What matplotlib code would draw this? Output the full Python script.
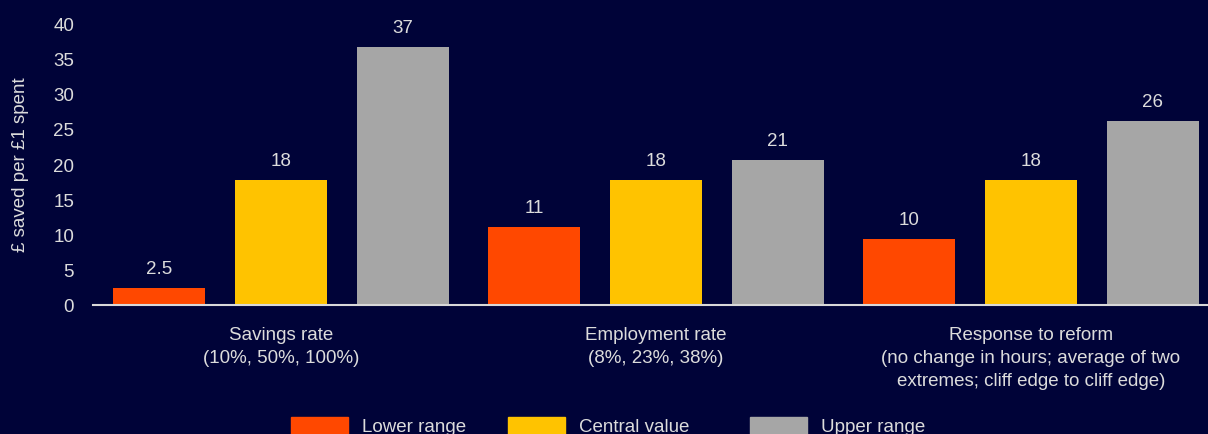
import matplotlib.pyplot as plt
import matplotlib.patches as mpatches
import numpy as np

# ---------------------------------------------------------------- Data
categories = ["Savings rate\n(10%, 50%, 100%)",
              "Employment rate\n(8%, 23%, 38%)",
              "Response to reform\n(no change in hours; average of two\nextremes; cliff edge to cliff edge)"]
series_names = ["Lower range", "Central value", "Upper range"]
lower   = [2.4, 11.1, 9.4]
central = [17.7, 17.7, 17.7]
upper   = [36.6, 20.6, 26.1]
lower_labels   = ["2.5", "11", "10"]
central_labels = ["18", "18", "18"]
upper_labels   = ["37", "21", "26"]
yticks = [0, 5, 10, 15, 20, 25, 30, 35, 40]

# ---------------------------------------------------------------- Style
BG = "#000338"
TXT = "#dcdcdc"
COLORS = ["#ff4800", "#ffc300", "#a6a6a6"]
FS = 13.5
plt.rcParams["font.family"] = ["Liberation Sans", "DejaVu Sans"]
plt.rcParams["font.size"] = FS

W, H = 1208, 435
fig = plt.figure(figsize=(W / 100, H / 100), dpi=100, facecolor=BG)
ax = fig.add_axes([0.0774, 0.2966, 0.9313, 0.648], facecolor=BG)

x = np.arange(len(categories))
step, width = 0.325, 0.245
for i, (vals, labs) in enumerate([(lower, lower_labels),
                                  (central, central_labels),
                                  (upper, upper_labels)]):
    xs = x + (i - 1) * step
    ax.bar(xs, vals, width, color=COLORS[i], edgecolor="none", zorder=2)
    for xi, v, lab in zip(xs, vals, labs):
        ax.annotate(lab, (xi, v), xytext=(0, 14), textcoords="offset points",
                    ha="center", va="center", color=TXT, fontsize=FS)

ax.set_xlim(-0.5, 2.5)
ax.set_ylim(0, 40)
ax.set_yticks(yticks)
ax.set_xticks(x)
ax.set_xticklabels(categories, color=TXT, fontsize=FS, linespacing=1.46)
ax.tick_params(axis="both", length=0, colors=TXT, labelsize=FS)
ax.tick_params(axis="x", pad=15)
ax.tick_params(axis="y", pad=14)
for s in ["top", "right", "left"]:
    ax.spines[s].set_visible(False)
ax.spines["bottom"].set_color("#d9d9d9")
ax.spines["bottom"].set_linewidth(1.5)
ax.spines["bottom"].set_zorder(3)
ax.set_ylabel("£ saved per £1 spent", color=TXT, fontsize=FS)
ax.yaxis.set_label_coords(-0.0576, 0.5)

# legend drawn by hand so the spacing follows the original
leg_x = [291, 508, 750]   # left edge of each swatch, px
for px, c, name in zip(leg_x, COLORS, series_names):
    fig.patches.append(mpatches.Rectangle((px / W, 0), 57 / W, 17 / H,
                                          transform=fig.transFigure,
                                          color=c, zorder=5))
    fig.text((px + 71) / W, 7 / H, name, color=TXT, fontsize=FS,
             ha="left", va="center")

fig.savefig("out.png", dpi=100, facecolor=BG)
